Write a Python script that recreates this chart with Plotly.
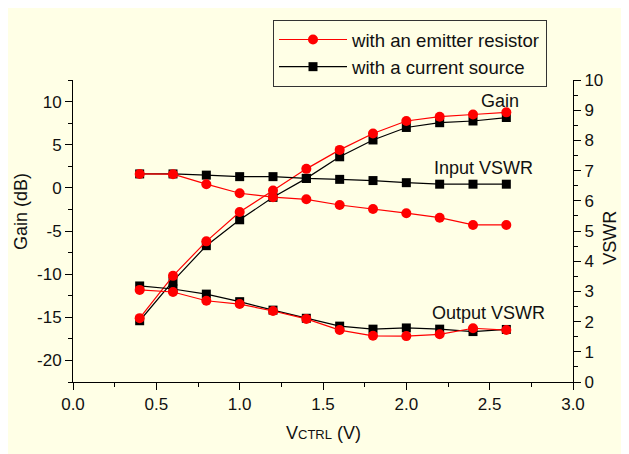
import plotly.graph_objects as go

v_ctrl = [0.4, 0.6, 0.8, 1.0, 1.2, 1.4, 1.6, 1.8, 2.0, 2.2, 2.4, 2.6]

gain_emitter = [-15.1, -10.2, -6.2, -2.8, -0.3, 2.2, 4.4, 6.3, 7.75, 8.25, 8.5, 8.75]
gain_current = [-15.4, -10.8, -6.7, -3.7, -1.1, 1.1, 3.6, 5.55, 7.0, 7.55, 7.75, 8.15]

in_vswr_emitter = [6.89, 6.88, 6.55, 6.25, 6.12, 6.05, 5.86, 5.73, 5.59, 5.44, 5.2, 5.2]
in_vswr_current = [6.89, 6.89, 6.85, 6.8, 6.8, 6.74, 6.71, 6.67, 6.6, 6.55, 6.55, 6.55]

out_vswr_emitter = [3.05, 2.98, 2.69, 2.58, 2.35, 2.09, 1.72, 1.53, 1.52, 1.58, 1.78, 1.72]
out_vswr_current = [3.18, 3.08, 2.91, 2.66, 2.38, 2.11, 1.85, 1.75, 1.79, 1.75, 1.67, 1.74]

gain_ticks = [-20, -15, -10, -5, 0, 5, 10]
gain_ticktext = ["-20", "-15", "-10", "-5", "0", "5", "10"]
x_ticks = [0.0, 0.5, 1.0, 1.5, 2.0, 2.5, 3.0]
x_ticktext = ["0.0", "0.5", "1.0", "1.5", "2.0", "2.5", "3.0"]

label_emitter = "with an emitter resistor"
label_current = "with a current source"

RED = "#FF0000"
BLACK = "#000000"
BG = "#FFFFE6"
FONT = "Arial, Liberation Sans, sans-serif"
TXT = "#111111"

red_line = dict(color=RED, width=1.2)
blk_line = dict(color=BLACK, width=1.2)
red_mk = dict(symbol="circle", size=10, color=RED)
blk_mk = dict(symbol="square", size=9, color=BLACK)

fig = go.Figure()

fig.add_trace(go.Scatter(x=v_ctrl, y=gain_current, mode="lines+markers",
                         line=blk_line, marker=blk_mk, name=label_current,
                         legendrank=2, yaxis="y"))
fig.add_trace(go.Scatter(x=v_ctrl, y=in_vswr_current, mode="lines+markers",
                         line=blk_line, marker=blk_mk, showlegend=False, yaxis="y2"))
fig.add_trace(go.Scatter(x=v_ctrl, y=out_vswr_current, mode="lines+markers",
                         line=blk_line, marker=blk_mk, showlegend=False, yaxis="y2"))

fig.add_trace(go.Scatter(x=v_ctrl, y=gain_emitter, mode="lines+markers",
                         line=red_line, marker=red_mk, name=label_emitter,
                         legendrank=1, yaxis="y"))
fig.add_trace(go.Scatter(x=v_ctrl, y=in_vswr_emitter, mode="lines+markers",
                         line=red_line, marker=red_mk, showlegend=False, yaxis="y2"))
fig.add_trace(go.Scatter(x=v_ctrl, y=out_vswr_emitter, mode="lines+markers",
                         line=red_line, marker=red_mk, showlegend=False, yaxis="y2"))

axis_common = dict(showline=True, linecolor="black", linewidth=1, ticks="outside",
                   ticklen=7, tickwidth=1, tickcolor="black", showgrid=False,
                   zeroline=False, automargin=False,
                   tickfont=dict(size=17, color=TXT))
minor_common = dict(ticklen=4, tickcolor="black", ticks="outside", showgrid=False)

# page body has an 8px default margin, so margins are offset by 8px
fig.update_layout(
    width=629, height=454,
    paper_bgcolor=BG, plot_bgcolor=BG,
    margin=dict(l=65, r=64, t=72, b=80, autoexpand=False),
    font=dict(family=FONT, size=18, color=TXT),
    showlegend=True,
    legend=dict(x=0.4, y=1.199, xanchor="left", yanchor="top",
                bgcolor=BG, bordercolor="#333", borderwidth=1,
                font=dict(size=18.6), tracegroupgap=0, itemwidth=68),
    xaxis=dict(range=[0, 3], tickvals=x_ticks, ticktext=x_ticktext,
               minor=dict(dtick=0.25, **minor_common), **axis_common),
    yaxis=dict(range=[-22.5, 12.5], tickvals=gain_ticks, ticktext=gain_ticktext,
               minor=dict(dtick=2.5, **minor_common), **axis_common),
    yaxis2=dict(range=[0, 10], dtick=1, overlaying="y", side="right",
                minor=dict(dtick=0.5, **minor_common), **axis_common),
    annotations=[
        dict(x=2.56, y=10.1, xref="x", yref="y", text="Gain", showarrow=False),
        dict(x=2.46, y=2.3, xref="x", yref="y", text="Input VSWR", showarrow=False),
        dict(x=2.49, y=-14.5, xref="x", yref="y", text="Output VSWR", showarrow=False),
        dict(x=-0.104, y=0.563, xref="paper", yref="paper", text="Gain (dB)",
             textangle=-90, showarrow=False, xanchor="center", yanchor="middle"),
        dict(x=1.074, y=0.478, xref="paper", yref="paper", text="VSWR",
             textangle=-90, showarrow=False, xanchor="center", yanchor="middle"),
        dict(x=0.5, y=-0.169, xref="paper", yref="paper",
             text="V<span style='font-size:13px'>CTRL</span> (V)",
             showarrow=False, xanchor="center", yanchor="middle"),
    ],
)

fig.write_html("out.html")
